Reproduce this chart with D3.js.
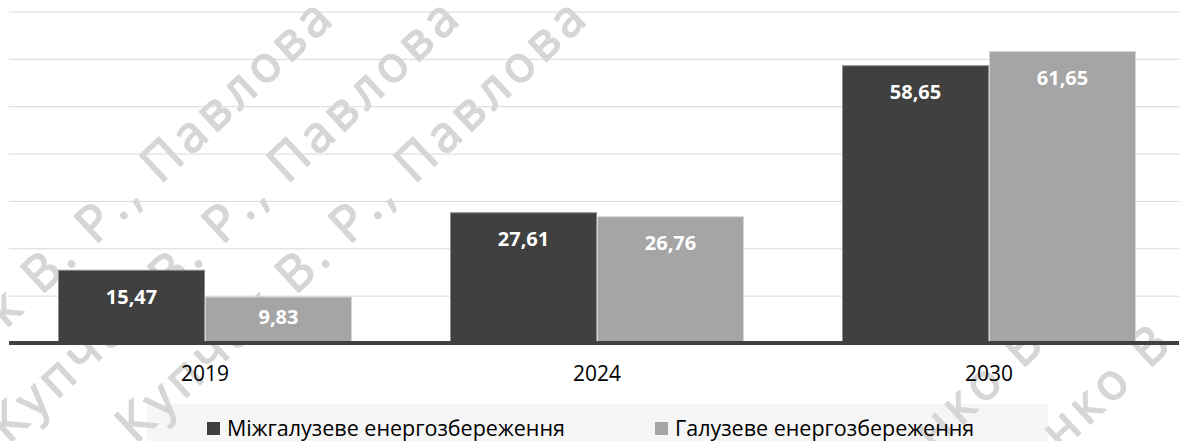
<!DOCTYPE html>
<html>
<head>
<meta charset="utf-8">
<script src="https://cdn.jsdelivr.net/npm/d3@7"></script>
<style>
  html, body { margin: 0; padding: 0; background: #ffffff; }
  svg { display: block; }
</style>
</head>
<body>
<svg id="chart" width="1179" height="441"></svg>
<script>
// Categories and series
const years = ["2019", "2024", "2030"];
const seriesNames = ["Міжгалузеве енергозбереження", "Галузеве енергозбереження"];
const interSectoral = [15.47, 27.61, 58.65];
const sectoral = [9.83, 26.76, 61.65];
const gridTicks = [10, 20, 30, 40, 50, 60, 70];

// Background stamp text
const stampLeft = "Купчак В. Р., Павлова";
const stampRight = "нко В";

const seriesValues = [interSectoral, sectoral];
const seriesFill = ["#404040", "#a5a5a5"];
const seriesStroke = ["#8c8c8c", "#d6d6d6"];

const W = 1179, H = 441;
const svg = d3.select("#chart");

const plot = { left: 9, right: 1185, top: 11.5, base: 343 };

const y = d3.scaleLinear().domain([0, 70]).range([plot.base, plot.top]);
const x0 = d3.scaleBand().domain(years).range([plot.left, plot.right])
  .paddingInner(0.25).paddingOuter(0.125);
const x1 = d3.scaleBand().domain(d3.range(seriesNames.length)).range([0, x0.bandwidth()]);

const fmt = v => d3.format(".2f")(v).replace(".", ",");

// Legend panel background
svg.append("rect")
  .attr("x", 147).attr("y", 404).attr("width", 901).attr("height", 40)
  .attr("fill", "#f6f6f6");

// Diagonal stamp text
const ang = -43;
const stampG = svg.append("g")
  .attr("font-family", "'Open Sans', sans-serif")
  .attr("font-size", 50)
  .attr("letter-spacing", 5)
  .attr("fill", "#d6d6d6")
  .attr("stroke", "#d6d6d6")
  .attr("stroke-width", 1.6)
  .attr("stroke-linejoin", "round");
[[338, 19], [465, 19], [592, 19]].forEach(([ex, ey]) => {
  stampG.append("text")
    .attr("text-anchor", "end")
    .attr("transform", `translate(${ex},${ey}) rotate(${ang})`)
    .text(stampLeft);
});
[[1176, 344], [1049, 344]].forEach(([ex, ey]) => {
  stampG.append("text")
    .attr("text-anchor", "end")
    .attr("transform", `translate(${ex},${ey}) rotate(${ang})`)
    .text(stampRight);
});

// Horizontal gridlines
const grid = svg.append("g")
  .attr("transform", `translate(${plot.left},0)`)
  .call(d3.axisLeft(y).tickValues(gridTicks).tickSize(-(W - plot.left)).tickFormat(""));
grid.select(".domain").remove();
grid.selectAll(".tick line").attr("stroke", "#d9d9d9").attr("stroke-width", 1);

// Bars
const groups = svg.append("g").selectAll("g")
  .data(years)
  .join("g")
  .attr("transform", d => `translate(${x0(d)},0)`);

const barData = (yr, i) => seriesValues.map((vals, s) => ({ s, v: vals[i] }));

groups.selectAll("rect")
  .data(barData)
  .join("rect")
  .attr("x", d => x1(d.s) + 0.5)
  .attr("y", d => y(d.v) + 0.5)
  .attr("width", x1.bandwidth() - 1)
  .attr("height", d => plot.base - 2 - y(d.v))
  .attr("fill", d => seriesFill[d.s])
  .attr("stroke", d => seriesStroke[d.s])
  .attr("stroke-width", 1);

// Value labels inside bars
groups.selectAll("text.val")
  .data(barData)
  .join("text")
  .attr("class", "val")
  .attr("x", d => x1(d.s) + x1.bandwidth() / 2)
  .attr("y", d => {
    const top = y(d.v), h = plot.base - top;
    return top + Math.min(27, h / 2 - 3) + 7;
  })
  .attr("text-anchor", "middle")
  .attr("font-family", "'Open Sans', sans-serif")
  .attr("font-weight", 700)
  .attr("font-size", 20)
  .attr("fill", "#ffffff")
  .text(d => fmt(d.v));

// Category axis
const xAxis = svg.append("g")
  .attr("transform", `translate(0,${plot.base})`)
  .call(d3.axisBottom(x0).tickSize(0).tickPadding(0));
xAxis.select(".domain").remove();
svg.append("line")
  .attr("x1", plot.left).attr("x2", W)
  .attr("y1", plot.base).attr("y2", plot.base)
  .attr("stroke", "#404040").attr("stroke-width", 4);
xAxis.selectAll(".tick text")
  .attr("y", 38)
  .attr("dy", 0)
  .attr("font-family", "'Open Sans', sans-serif")
  .attr("font-size", 21)
  .attr("fill", "#000000");

// Legend
const legendItems = [{ x: 207 }, { x: 655 }];
const legend = svg.append("g").selectAll("g")
  .data(seriesNames)
  .join("g")
  .attr("transform", (d, i) => `translate(${legendItems[i].x},422)`);
legend.append("rect")
  .attr("width", 13).attr("height", 13)
  .attr("fill", (d, i) => seriesFill[i]);
legend.append("text")
  .attr("x", 20).attr("y", 14)
  .attr("font-family", "'Open Sans', sans-serif")
  .attr("font-size", 21.5)
  .attr("fill", "#000000")
  .text(d => d);
</script>
</body>
</html>
